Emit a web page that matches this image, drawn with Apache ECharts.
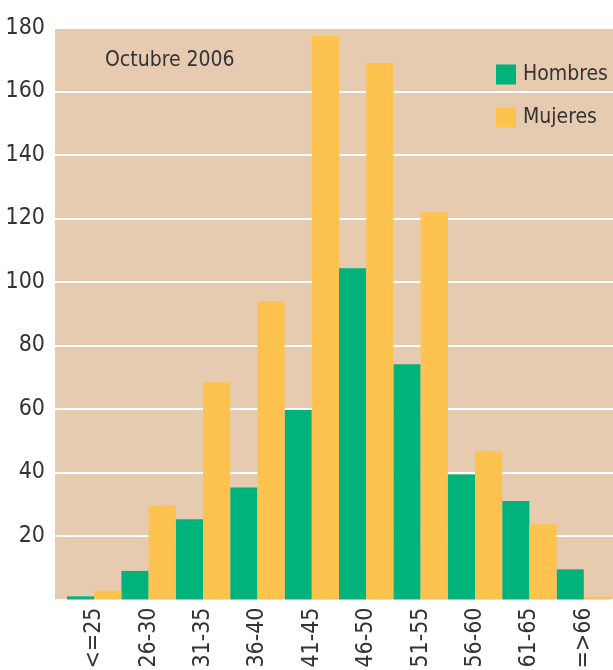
<!DOCTYPE html>
<html>

<head>
    <meta charset="utf-8">
    <title>Octubre 2006</title>
    <style>
        html, body { margin: 0; padding: 0; background: #fff; }
        #main { width: 613px; height: 670px; }
    </style>
</head>

<body>
    <div id="main"></div>
    <script type="text/javascript" src="https://cdn.jsdelivr.net/npm/echarts@6/dist/echarts.min.js"></script>
    <script type="text/javascript">
    // datos
    var categorias = ['<=25', '26-30', '31-35', '36-40', '41-45', '46-50', '51-55', '56-60', '61-65', '=>66'];
    var hombres = [1, 9, 25.3, 35.3, 59.7, 104.3, 74.1, 39.4, 31, 9.5];
    var mujeres = [2.8, 29.6, 68.4, 94, 177.5, 169, 122, 46.7, 23.7, 0.9];
    var ejeY = { min: 0, max: 180, interval: 20 };

    var fuente = '"DejaVu Sans Condensed", "Liberation Sans Narrow", sans-serif';
    var colorTexto = '#333333';

    var myChart = echarts.init(document.getElementById('main'));
    var option = {
        animation: false,
        title: {
            text: 'Octubre 2006',
            left: 100,
            top: 45,
            textStyle: { fontFamily: fuente, fontSize: 21, fontWeight: 'normal', color: colorTexto }
        },
        legend: {
            orient: 'vertical',
            left: 491,
            top: 59,
            itemWidth: 20,
            itemHeight: 20,
            itemGap: 22,
            icon: 'rect',
            textStyle: { fontFamily: fuente, fontSize: 21, color: colorTexto, lineHeight: 20, padding: [0, 0, 0, 2] },
            data: ['Hombres', 'Mujeres']
        },
        // grid 0: fondo, líneas y eje Y ; grid 1: barras
        grid: [
            { left: 55, right: 0, top: 28, bottom: 70.5, show: true, backgroundColor: '#e6cbb0', borderWidth: 0, outerBoundsMode: 'none' },
            { left: 67, right: 2, top: 28, bottom: 70.5, outerBoundsMode: 'none' }
        ],
        xAxis: [
            { type: 'category', gridIndex: 0, data: categorias, show: false },
            {
                type: 'category',
                gridIndex: 1,
                data: categorias,
                axisLine: { show: false },
                axisTick: { show: false },
                axisLabel: { rotate: 90, margin: 8, fontFamily: fuente, fontSize: 23, color: colorTexto }
            }
        ],
        yAxis: [
            {
                type: 'value',
                gridIndex: 0,
                min: ejeY.min,
                max: ejeY.max,
                interval: ejeY.interval,
                axisLine: { show: false },
                axisTick: { show: false },
                splitLine: { lineStyle: { color: '#ffffff', width: 2 } },
                axisLabel: {
                    margin: 10,
                    showMinLabel: false,
                    fontFamily: fuente,
                    fontSize: 23,
                    color: colorTexto
                }
            },
            { type: 'value', gridIndex: 1, min: ejeY.min, max: ejeY.max, show: false, splitLine: { show: false } }
        ],
        series: [
            {
                name: 'Hombres',
                type: 'bar',
                xAxisIndex: 1,
                yAxisIndex: 1,
                barGap: '0%',
                barCategoryGap: '0%',
                itemStyle: { color: '#00b37b' },
                data: hombres
            },
            {
                name: 'Mujeres',
                type: 'bar',
                xAxisIndex: 1,
                yAxisIndex: 1,
                barGap: '0%',
                barCategoryGap: '0%',
                itemStyle: { color: '#fec24f' },
                data: mujeres
            }
        ]
    };
    myChart.setOption(option);
    </script>
</body>

</html>
